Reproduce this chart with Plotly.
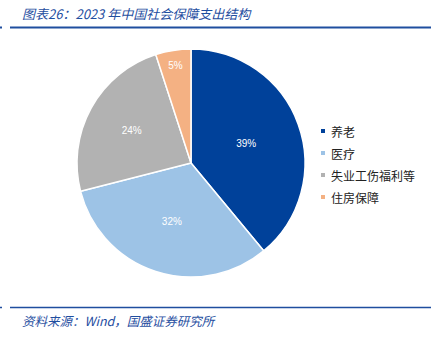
import plotly.graph_objects as go

# 2023年中国社会保障支出结构（%）
categories = ["养老", "医疗", "失业工伤福利等", "住房保障"]
shares = [39, 32, 24, 5]
colors = ["#00419A", "#9DC3E6", "#B2B2B2", "#F4B183"]

title_text = "图表26：2023 年中国社会保障支出结构"
source_text = "资料来源：Wind，国盛证券研究所"

W, H = 446, 338
accent = "#1F4E9F"
cjk = "Noto Sans CJK SC"

fig = go.Figure()
fig.add_trace(go.Pie(
    labels=categories,
    values=shares,
    sort=False,
    direction="clockwise",
    rotation=0,
    marker=dict(colors=colors, line=dict(color="white", width=1.5)),
    texttemplate="%{value}%",
    textposition="inside",
    insidetextorientation="horizontal",
    textfont=dict(color="white", size=10, family="Liberation Sans"),
    domain=dict(x=[77 / W, 305 / W], y=[(H - 277) / H, (H - 49) / H]),
    showlegend=False,
    hoverinfo="label+percent",
))

shapes = []
annotations = []

# header and footer rules
for y, width in [(27.5, 2.2), (307.5, 1.6)]:
    shapes.append(dict(type="line", xref="paper", yref="paper",
                       x0=10 / W, x1=431 / W, y0=1 - y / H, y1=1 - y / H,
                       line=dict(color=accent, width=width)))
    shapes.append(dict(type="line", xref="paper", yref="paper",
                       x0=0, x1=2 / W, y0=1 - y / H, y1=1 - y / H,
                       line=dict(color=accent, width=width)))

annotations.append(dict(text=f"<i>{title_text}</i>", xref="paper", yref="paper",
                        x=20 / W, y=1 - 14 / H, xanchor="left", yanchor="middle",
                        showarrow=False, font=dict(family=cjk, size=13, color=accent)))
annotations.append(dict(text=f"<i>{source_text}</i>", xref="paper", yref="paper",
                        x=20 / W, y=1 - 320 / H, xanchor="left", yanchor="middle",
                        showarrow=False, font=dict(family=cjk, size=12.5, color=accent)))

# legend: small square swatch plus label per category
for i, (name, col) in enumerate(zip(categories, colors)):
    yc = 131 + 22 * i
    shapes.append(dict(type="rect", xref="paper", yref="paper",
                       x0=321 / W, x1=325 / W,
                       y0=1 - (yc + 2) / H, y1=1 - (yc - 2) / H,
                       fillcolor=col, line=dict(width=0)))
    annotations.append(dict(text=name, xref="paper", yref="paper",
                            x=329 / W, y=1 - yc / H, xanchor="left", yanchor="middle",
                            showarrow=False,
                            font=dict(family=cjk, size=12, color="#222222")))

fig.update_layout(
    width=W, height=H,
    margin=dict(l=0, r=0, t=0, b=0),
    paper_bgcolor="white", plot_bgcolor="white",
    shapes=shapes, annotations=annotations,
)

fig.write_html("out.html")
